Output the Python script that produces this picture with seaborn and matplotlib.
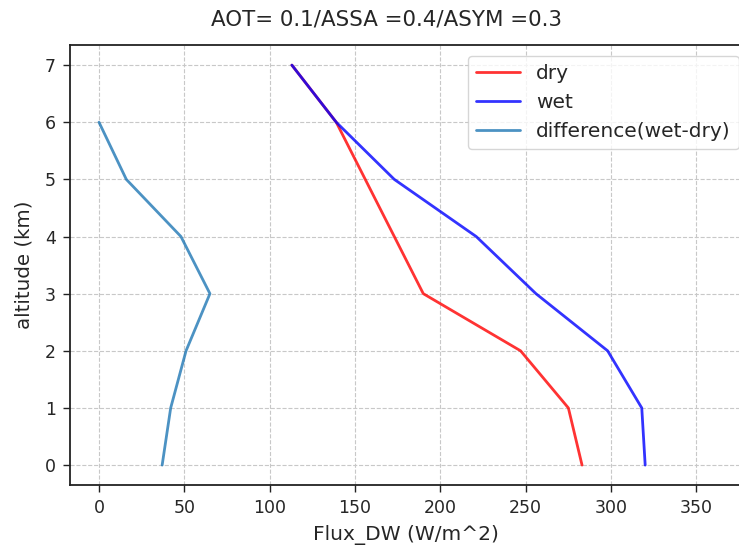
import numpy as np
import pandas as pd
import matplotlib
matplotlib.use('Agg')
import matplotlib.pyplot as plt
import seaborn as sns

# 高度 (km)
altitude = [0, 1, 2, 3, 4, 5, 6, 7]
# 干/湿情况下的向下通量
flux_dry = [283, 275, 247, 190, 173, 156, 139, 113]
flux_wet = [320, 318, 298, 256, 221, 173, 139, 113]
# 差值 (wet-dry)，只到6 km
alt_diff = [0, 1, 2, 3, 4, 5, 6]
flux_diff = [37, 42, 51, 65, 48, 16, 0]

xticks = [0, 50, 100, 150, 200, 250, 300, 350]
yticks = [0, 1, 2, 3, 4, 5, 6, 7]

sns.set_style('whitegrid', {'grid.linestyle': '--', 'grid.color': '#c8c8c8',
                            'axes.edgecolor': '#222222', 'xtick.bottom': True,
                            'ytick.left': True})
plt.rcParams['font.family'] = ['DejaVu Sans']

fig = plt.figure(figsize=(7.39, 5.5), dpi=100)
ax = fig.add_axes([0.0947, 0.118, 0.91, 0.8])

sns.lineplot(x=flux_dry, y=altitude, sort=False, estimator=None, color='red',
             alpha=0.8, linewidth=2, label='dry', ax=ax)
sns.lineplot(x=flux_wet, y=altitude, sort=False, estimator=None, color='blue',
             alpha=0.8, linewidth=2, label='wet', ax=ax)
sns.lineplot(x=flux_diff, y=alt_diff, sort=False, estimator=None, color='#1f77b4',
             alpha=0.8, linewidth=2, label='difference(wet-dry)', ax=ax)

ax.set_xlim(-17, 377)
ax.set_ylim(-0.35, 7.35)
ax.set_xticks(xticks)
ax.set_yticks(yticks)
ax.tick_params(axis='both', labelsize=12.5, length=5, width=1, pad=5, color='#222222')
for s in ax.spines.values():
    s.set_linewidth(1.3)

ax.set_xlabel('Flux_DW (W/m^2)', fontsize=14.5, labelpad=6)
ax.set_ylabel('altitude (km)', fontsize=14.3, labelpad=8)
ax.set_title('AOT= 0.1/ASSA =0.4/ASYM =0.3', fontsize=15.4, x=0.471, pad=14)
ax.legend(loc='upper right', fontsize=14.5, frameon=True, handlelength=2.2,
          borderaxespad=0, bbox_to_anchor=(1.0, 1 - 56 / 550),
          bbox_transform=fig.transFigure)

fig.savefig('out.png', dpi=100)
